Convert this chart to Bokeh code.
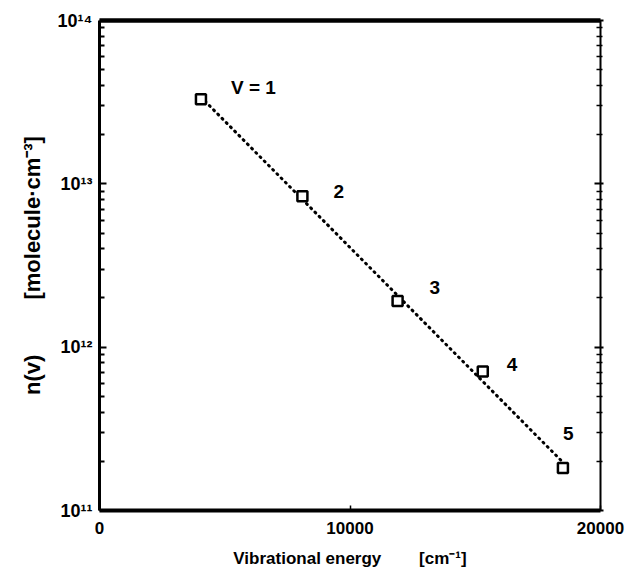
import numpy as np
from bokeh.plotting import figure
from bokeh.models import (ColumnDataSource, LinearAxis, LogAxis, FixedTicker, Range1d)
from bokeh.core.properties import value
from bokeh.embed import file_html
from bokeh.resources import INLINE

# data
levels = ["V = 1", "2", "3", "4", "5"]
energy = [4050, 8100, 11900, 15300, 18500]              # cm^-1
population = [3.3e13, 8.4e12, 1.92e12, 7.1e11, 1.82e11]  # molecule cm^-3

x_ticks = [0, 10000, 20000]
y_ticks = [1e11, 1e12, 1e13, 1e14]
y_tick_labels = ["10\u00b9\u00b9", "10\u00b9\u00b2", "10\u00b9\u00b3", "10\u00b9\u2074"]

# label offsets (screen px) relative to each point
lab_dx = [30, 31, 32, 24, 0]
lab_dy = [-12, -5, -13, -7, -35]

FONT = "Liberation Sans"
NB = "\u00a0"

p = figure(width=625, height=570, x_range=Range1d(0, 20000), y_range=Range1d(1e11, 1e14),
           y_axis_type="log", output_backend="svg", toolbar_location=None,
           min_border_left=99, min_border_right=25, min_border_top=20, min_border_bottom=57)
p.grid.visible = False
p.outline_line_color = None
p.background_fill_color = "white"
p.border_fill_color = "white"

# fitted straight line in log space through the measured points
coef = np.polyfit(energy, np.log10(population), 1)
fx = [energy[0], energy[-1]]
fy = [10 ** np.polyval(coef, v) for v in fx]
p.line(fx, fy, line_color="black", line_width=3, line_dash="1 5", line_cap="round")

src = ColumnDataSource(dict(x=energy, y=population, t=levels, dx=lab_dx, dy=lab_dy))
p.scatter("x", "y", source=src, marker="square", size=10, fill_color="white",
          line_color="black", line_width=2.5)
p.text("x", "y", text="t", source=src, x_offset="dx", y_offset="dy",
       text_font=value(FONT), text_font_style="bold", text_font_size="19px",
       text_baseline="middle", text_align="left", text_color="black")

minor = [m * 10.0 ** e for e in (11, 12, 13) for m in range(2, 10)]

# bottom axis
xa = p.xaxis[0]
xa.ticker = FixedTicker(ticks=x_ticks, minor_ticks=[])
xa.axis_line_width = 4
xa.major_tick_in = 5
xa.major_tick_out = 0
xa.major_tick_line_width = 1.5
xa.major_label_text_font = FONT
xa.major_label_text_font_style = "bold"
xa.major_label_text_font_size = "17px"
xa.major_label_text_color = "black"
xa.major_label_standoff = 11
xa.axis_label = "Vibrational energy" + NB * 8 + "[cm\u207b\u00b9]"
xa.axis_label_text_font = FONT
xa.axis_label_text_font_style = "bold"
xa.axis_label_text_font_size = "17px"
xa.axis_label_text_color = "black"
xa.axis_label_standoff = 12

# left axis
ya = p.yaxis[0]
ya.ticker = FixedTicker(ticks=y_ticks, minor_ticks=minor)
ya.major_label_overrides = {t: s for t, s in zip(y_ticks, y_tick_labels)}
ya.axis_line_width = 3
ya.major_tick_in = 7
ya.major_tick_out = 0
ya.minor_tick_in = 5
ya.minor_tick_out = 0
ya.major_tick_line_width = 2
ya.minor_tick_line_width = 2
ya.major_label_text_font = FONT
ya.major_label_text_font_style = "bold"
ya.major_label_text_font_size = "18px"
ya.major_label_text_color = "black"
ya.major_label_standoff = 7
ya.axis_label = "n(v)" + NB * 9 + "[molecule\u00b7cm\u207b\u00b3]"
ya.axis_label_text_font = FONT
ya.axis_label_text_font_style = "bold"
ya.axis_label_text_font_size = "22px"
ya.axis_label_text_color = "black"
ya.axis_label_standoff = 10

# top axis: thick line only
ta = LinearAxis(ticker=FixedTicker(ticks=[0], minor_ticks=[]), axis_line_width=4.5,
                major_label_text_color=None, major_label_text_font_size="1px",
                major_label_standoff=0,
                major_tick_in=0, major_tick_out=0, minor_tick_in=0, minor_tick_out=0)
p.add_layout(ta, "above")

# right axis with inward ticks
ra = LogAxis(ticker=FixedTicker(ticks=y_ticks, minor_ticks=minor),
             axis_line_width=2, major_label_text_color=None, major_label_text_font_size="1px",
             major_label_standoff=0,
             major_tick_in=6, major_tick_out=3, minor_tick_in=4, minor_tick_out=2,
             major_tick_line_width=2, minor_tick_line_width=1.5)
p.add_layout(ra, "right")

open("out.html", "w").write(file_html(p, INLINE))
